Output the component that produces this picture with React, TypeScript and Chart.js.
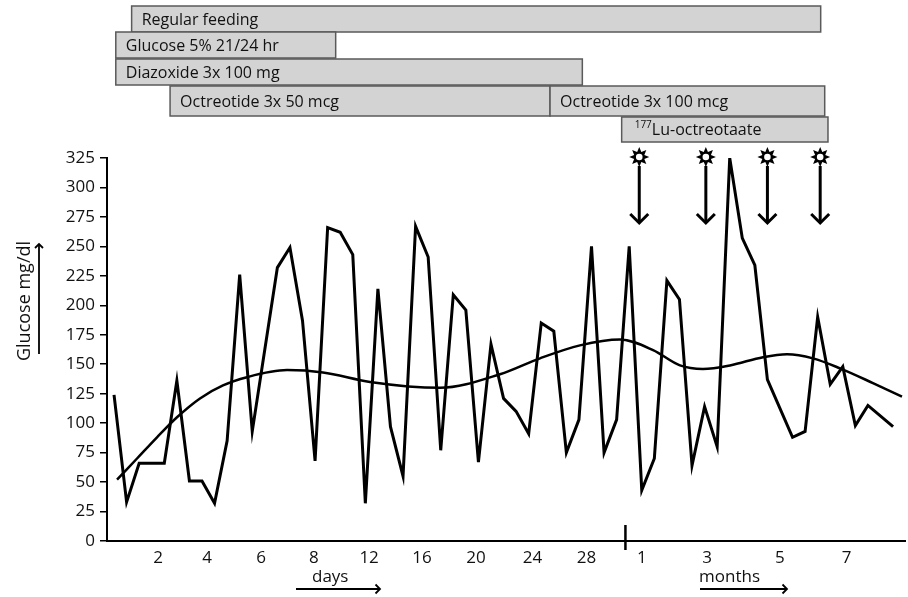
import React, { useEffect, useRef } from "react";
import { Chart, registerables } from "chart.js";
Chart.register(...registerables);

// Measurement order (position along the time axis) and glucose values (mg/dl)
const sampleIndex = [0, 1, 2, 3, 4, 5, 6, 7, 8, 9, 10, 11, 13, 14, 15, 16, 17, 18, 19, 20, 21, 22, 23, 24, 25, 26, 27, 28, 29, 30, 31, 32, 33, 34, 35, 36, 37, 38, 39, 40, 41, 42, 43, 44, 45, 46, 47, 48, 49, 50, 51, 52, 54, 55, 56, 57, 58, 59, 60, 62];
const glucose = [124, 33, 66, 66, 66, 136, 51, 51, 32, 85, 226, 93, 232, 249, 187, 68, 266, 262, 243, 32, 214, 97, 55, 267, 241, 77, 209, 196, 67, 167, 121, 110, 91, 185, 178, 75, 103, 250, 75, 103, 250, 43, 70, 221, 205, 64, 114, 80, 325, 257, 234, 137, 88, 93, 190, 133, 148, 98, 115, 97];

// Smoothed trend
const trendIndex = [0.24, 1.83, 3.42, 5.01, 6.84, 8.67, 10.58, 13.77, 16.63, 20.37, 25.94, 30.72, 33.9, 37.08, 40.27, 42.9, 45.04, 46.87, 49.02, 51.65, 53.56, 55.63, 57.78, 60.4, 62.71];
const trendValues = [52, 70, 88, 105, 121, 132, 139, 145, 143, 135, 130, 141.5, 155, 166, 171, 162, 149, 146, 149, 156, 158.5, 155, 146.5, 134, 122.5];

// Axis ticks
const tickPositions = [3.5, 7.4, 11.7, 15.9, 20.3, 24.5, 28.8, 33.3, 37.6, 42.0, 47.2, 53.0, 58.3];
const tickLabels = ["2", "4", "6", "8", "12", "16", "20", "24", "28", "1", "3", "5", "7"];
const dividerPosition = 40.7;
const yTicksMax = 325;
const yStep = 25;

// 177Lu-octreotaate doses
const doseIndex = [41.8, 47.1, 52.0, 56.2];

// Treatments
const treatmentNames = ["Regular feeding", "Glucose 5% 21/24 hr", "Diazoxide 3x 100 mg", "Octreotide 3x 50 mcg", "Octreotide 3x 100 mcg", "Lu-octreotaate"];
const treatmentSup = ["", "", "", "", "", "177"];
const treatmentStart = [1.4, 0.14, 0.14, 4.46, 34.7, 40.4];
const treatmentEnd = [56.24, 17.64, 37.27, 34.7, 56.56, 56.82];
const treatmentRow = [0, 1, 2, 3, 3, 4];

const FONT = "'Open Sans', sans-serif";
const rowTops = [6, 32, 59, 86, 117];
const rowHeights = [26, 26, 26, 30, 25];

function chevron(ctx: CanvasRenderingContext2D, x: number, y: number, dir: string, s: number) {
  ctx.beginPath();
  if (dir === "down") {
    ctx.moveTo(x - s, y - s); ctx.lineTo(x, y); ctx.lineTo(x + s, y - s);
  } else if (dir === "up") {
    ctx.moveTo(x - s, y + s); ctx.lineTo(x, y); ctx.lineTo(x + s, y + s);
  } else {
    ctx.moveTo(x - s, y - s); ctx.lineTo(x, y); ctx.lineTo(x - s, y + s);
  }
  ctx.stroke();
}

const overlay = {
  id: "overlay",
  afterDraw(chart: any) {
    const ctx: CanvasRenderingContext2D = chart.ctx;
    const xs = chart.scales.x;
    const area = chart.chartArea;
    ctx.save();
    // treatment bars
    for (let i = 0; i < treatmentNames.length; i++) {
      const x0 = xs.getPixelForValue(treatmentStart[i]);
      const x1 = xs.getPixelForValue(treatmentEnd[i]);
      const r = treatmentRow[i];
      const top = rowTops[r];
      const h = rowHeights[r];
      ctx.fillStyle = "#d3d3d3";
      ctx.fillRect(x0, top, x1 - x0, h);
      ctx.strokeStyle = "#5a5a5a";
      ctx.lineWidth = 1.5;
      ctx.strokeRect(x0, top, x1 - x0, h);
      ctx.fillStyle = "#111";
      ctx.textBaseline = "middle";
      ctx.textAlign = "left";
      let tx = x0 + 10;
      if (treatmentSup[i]) {
        ctx.font = `10px ${FONT}`;
        ctx.fillText(treatmentSup[i], tx + 3, top + h / 2 - 4);
        tx += ctx.measureText(treatmentSup[i]).width + 3;
      }
      ctx.font = `16px ${FONT}`;
      ctx.fillText(treatmentNames[i], tx, top + h / 2 + 1);
    }
    // dose markers
    ctx.strokeStyle = "#000";
    ctx.fillStyle = "#000";
    for (const d of doseIndex) {
      const x = xs.getPixelForValue(d);
      const cy = area.top - 1;
      ctx.beginPath();
      const spikes = 8;
      for (let k = 0; k < spikes * 2; k++) {
        const ang = (Math.PI * k) / spikes - Math.PI / 2;
        const rr = k % 2 === 0 ? 10 : 5.5;
        const px = x + Math.cos(ang) * rr;
        const py = cy + Math.sin(ang) * rr;
        if (k === 0) ctx.moveTo(px, py); else ctx.lineTo(px, py);
      }
      ctx.closePath();
      ctx.fill();
      ctx.beginPath();
      ctx.fillStyle = "#fff";
      ctx.arc(x, cy, 3.3, 0, Math.PI * 2);
      ctx.fill();
      ctx.fillStyle = "#000";
      ctx.lineWidth = 3;
      ctx.beginPath();
      ctx.moveTo(x, cy + 9);
      ctx.lineTo(x, area.top + 64);
      ctx.stroke();
      ctx.lineWidth = 3;
      chevron(ctx, x, area.top + 65, "down", 9);
    }
    // divider between days and months
    const dx = xs.getPixelForValue(dividerPosition);
    ctx.lineWidth = 2.5;
    ctx.beginPath();
    ctx.moveTo(dx, area.bottom - 16);
    ctx.lineTo(dx, area.bottom + 9);
    ctx.stroke();
    // y axis title and arrow
    ctx.save();
    ctx.translate(25, 301);
    ctx.rotate(-Math.PI / 2);
    ctx.font = `18px ${FONT}`;
    ctx.textAlign = "center";
    ctx.textBaseline = "middle";
    ctx.fillStyle = "#111";
    ctx.fillText("Glucose mg/dl", 0, 0);
    ctx.restore();
    ctx.lineWidth = 1.8;
    ctx.beginPath();
    ctx.moveTo(39, 354);
    ctx.lineTo(39, 244);
    ctx.stroke();
    chevron(ctx, 39, 244, "up", 4);
    // days / months captions
    ctx.font = `17px ${FONT}`;
    ctx.textAlign = "left";
    ctx.textBaseline = "middle";
    ctx.fillStyle = "#111";
    ctx.fillText("days", 312, 577);
    ctx.fillText("months", 699, 577);
    ctx.lineWidth = 1.8;
    ctx.beginPath(); ctx.moveTo(296, 589); ctx.lineTo(380, 589); ctx.stroke();
    chevron(ctx, 380, 589, "right", 4.5);
    ctx.beginPath(); ctx.moveTo(700, 589); ctx.lineTo(787, 589); ctx.stroke();
    chevron(ctx, 787, 589, "right", 4.5);
    ctx.restore();
  },
};

export default function App() {
  const ref = useRef<HTMLCanvasElement>(null);
  useEffect(() => {
    if (!ref.current) return;
    const chart = new Chart(ref.current, {
      type: "line",
      data: {
        datasets: [
          {
            label: "Glucose",
            data: sampleIndex.map((x, i) => ({ x, y: glucose[i] })),
            borderColor: "#000",
            borderWidth: 3,
            pointRadius: 0,
            tension: 0,
            borderJoinStyle: "miter",
          },
          {
            label: "Trend",
            data: trendIndex.map((x, i) => ({ x, y: trendValues[i] })),
            borderColor: "#000",
            borderWidth: 2.5,
            pointRadius: 0,
            cubicInterpolationMode: "monotone",
          },
        ],
      },
      options: {
        responsive: false,
        animation: false,
        layout: { padding: { top: 158, right: 3, left: 0, bottom: 0 } },
        plugins: { legend: { display: false }, tooltip: { enabled: false } },
        scales: {
          x: {
            type: "linear",
            min: -0.56,
            max: 62.95,
            afterFit: (s: any) => { s.height = 56; },
            afterBuildTicks: (s: any) => { s.ticks = tickPositions.map((v) => ({ value: v })); },
            grid: { display: false, drawTicks: false },
            border: { display: true, color: "#000", width: 2 },
            ticks: {
              autoSkip: false,
              maxRotation: 0,
              padding: 7,
              color: "#111",
              font: { family: FONT, size: 17 },
              callback: (_v: any, i: number) => tickLabels[i],
            },
          },
          y: {
            min: 0,
            max: yTicksMax,
            afterFit: (s: any) => { s.width = 107; },
            grid: { drawOnChartArea: false, drawTicks: true, tickLength: 7, color: "#000", lineWidth: 1.5 },
            border: { display: true, color: "#000", width: 2 },
            ticks: {
              stepSize: yStep,
              padding: 5,
              color: "#111",
              font: { family: FONT, size: 17 },
            },
          },
        },
      },
      plugins: [overlay],
    } as any);
    return () => chart.destroy();
  }, []);
  return (
    <div style={{ position: "fixed", left: 0, top: 0, width: 908, height: 597, background: "#fff" }}>
      <canvas ref={ref} width={908} height={597} />
    </div>
  );
}
